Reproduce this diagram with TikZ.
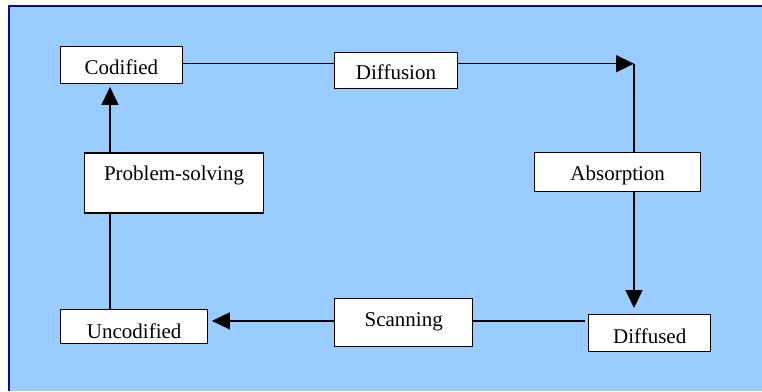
\documentclass[tikz,border=0pt]{standalone}
\usepackage{fontspec}
\setmainfont{Liberation Serif}
\usetikzlibrary{arrows.meta,calc}
\definecolor{panelblue}{RGB}{153,204,255}
\definecolor{framenavy}{RGB}{10,10,150}
\tikzset{
  stagebox/.style={draw=black, fill=white, line width=1.4pt, inner sep=0pt,
    anchor=north west, font=\fontsize{21}{25}\selectfont},
  flow/.style={draw=black, line width=1.4pt},
  flowarrow/.style={flow, -{Triangle[length=18pt,width=17pt]}},
}
\begin{document}
\begin{tikzpicture}[x=1pt,y=-1pt]
  \useasboundingbox (0,0) rectangle (762,391);
  % panel with a frame on its top and left edges
  \fill[panelblue] (9,6) rectangle (762,391);
  \draw[framenavy, line width=2.2pt] (9,391) -- (9,6) -- (762,6);

  % stages of the cycle
  \node[stagebox, minimum width=122.5pt, text height=28pt, text depth=9pt]
    (cod) at (59.5,46) {Codified};
  \node[stagebox, minimum width=122.5pt, text height=27.5pt, text depth=8.5pt]
    (dif) at (334,51.5) {Diffusion};
  \node[stagebox, minimum width=166pt, text height=28pt, text depth=11pt]
    (abs) at (534,152) {Absorption};
  \node[stagebox, minimum width=122pt, text height=28.5pt, text depth=8.5pt]
    (dfd) at (588,314) {Diffused};
  \node[stagebox, minimum width=138pt, text height=28pt, text depth=20pt]
    (scn) at (334,298) {Scanning};
  \node[stagebox, minimum width=147pt, text height=28.3pt, text depth=5.4pt]
    (unc) at (60,309) {Uncodified};
  \node[stagebox, minimum width=178.7pt, text height=27.7pt, text depth=32.3pt]
    (prb) at (84,152.3) {Problem-solving};

  % routing row, columns and corner
  \coordinate (trow) at ($(cod.east)+(0,-1.5)$);
  \coordinate (rcol) at (trow -| 634,0);
  \coordinate (lcol) at (110,0);

  % top run: Codified -> Diffusion -> corner
  \draw[flow] (trow) -- (trow -| dif.west);
  \draw[flowarrow] (trow -| dif.east) -- (rcol);

  % right run: corner -> Absorption -> Diffused
  \draw[flow] (rcol) -- (rcol |- abs.north);
  \draw[flowarrow, shorten >=6pt] (rcol |- abs.south) -- (rcol |- dfd.north);

  % bottom run: Diffused -> Scanning -> Uncodified
  \coordinate (brow) at ($(scn.east)+(0,-1.8)$);
  \draw[flow] (brow) -- ([xshift=-3.5pt]brow -| dfd.west);
  \draw[flowarrow, shorten >=3.5pt] (brow -| scn.west) -- (brow -| unc.east);

  % left run: Uncodified -> Problem-solving -> Codified
  \draw[flow] (lcol |- unc.north) -- (lcol |- prb.south);
  \draw[flowarrow, shorten >=2.5pt] (lcol |- prb.north) -- (lcol |- cod.south);
\end{tikzpicture}
\end{document}
